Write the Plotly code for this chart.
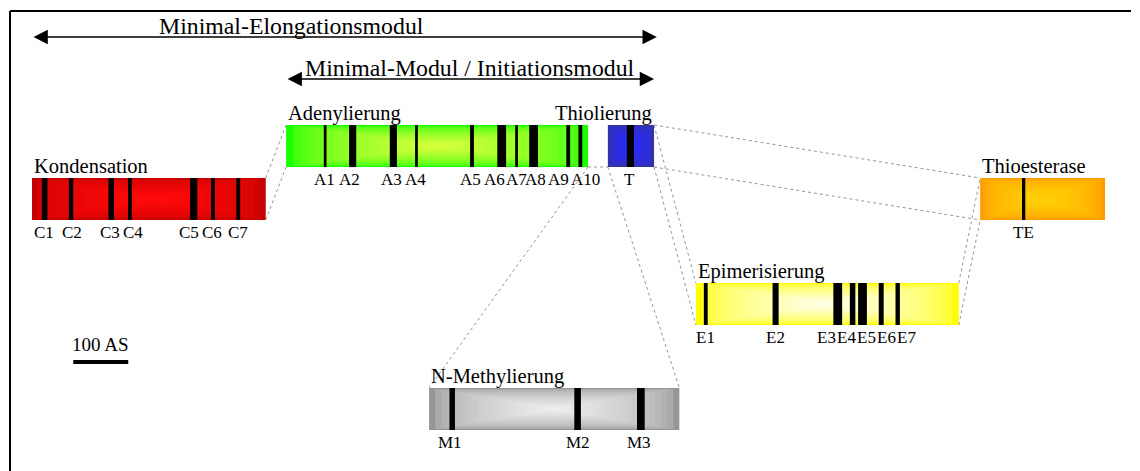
import plotly.graph_objects as go

# ---------------- data (amino-acid units, AS) ----------------
domain_names = ["Kondensation", "Adenylierung", "Thiolierung",
                "Thioesterase", "Epimerisierung", "N-Methylierung"]
domain_length = [425, 549, 84, 227, 478, 455]

motif_k_names = ["C1", "C2", "C3", "C4", "C5", "C6", "C7"]
motif_k_pos = [23, 71, 144, 178, 294, 329, 375]
motif_k_width = [10, 8, 10, 7, 13, 7, 7]

motif_a_names = ["A1", "A2", "A3", "A4", "A5", "A6", "A7", "A8", "A9", "A10"]
motif_a_pos = [71, 121, 195, 237, 338, 392, 419, 450, 513, 535]
motif_a_width = [5, 13, 13, 5, 7, 16, 5, 16, 7, 7]

motif_t_names = ["T"]
motif_t_pos = [41]
motif_t_width = [13]

motif_te_names = ["TE"]
motif_te_pos = [79]
motif_te_width = [6]

motif_e_names = ["E1", "E2", "E3", "E4", "E5", "E6", "E7"]
motif_e_pos = [18, 145, 258, 285, 303, 337, 367]
motif_e_width = [7, 11, 16, 10, 16, 9, 8]

motif_m_names = ["M1", "M2", "M3"]
motif_m_pos = [42, 270, 385]
motif_m_width = [10, 12, 14]

scale_bar_as = 100
scale_bar_label = "100 AS"

module_elong = "Minimal-Elongationsmodul"
module_init = "Minimal-Modul / Initiationsmodul"

# ---------------- layout / styling ----------------
PX_PER_AS = 0.55
W, H = 1140, 471
X0PX = 32  # pixel where AS 0 (start of Kondensation) sits
BAR_H = 42
FONT = "Liberation Serif"

# global start (AS) and top (px) of each domain
layout_pos = {
    "Kondensation": (0, 178),
    "Adenylierung": (462, 125),
    "Thiolierung": (1047, 125),
    "Thioesterase": (1724, 178),
    "Epimerisierung": (1207, 283),
    "N-Methylierung": (722, 388),
}
# label anchor positions (AS, relative to domain start), nudged to avoid collisions
label_x = {
    "Kondensation": [22, 72, 142, 183, 286, 327, 375],
    "Adenylierung": [70, 116, 191, 236, 336, 378, 418, 453, 495, 545],
    "Thiolierung": [40],
    "Thioesterase": [78],
    "Epimerisierung": [18, 145, 238, 274, 310, 347, 383],
    "N-Methylierung": [38, 270, 382],
}
colors = {
    "Kondensation": ((198, 0, 0), (255, 10, 10)),
    "Adenylierung": ((25, 255, 0), (212, 255, 60)),
    "Thiolierung": ((52, 52, 160), (42, 42, 255)),
    "Thioesterase": ((255, 155, 0), (255, 208, 5)),
    "Epimerisierung": ((255, 255, 0), (255, 255, 228)),
    "N-Methylierung": ((150, 150, 150), (236, 236, 236)),
}
motifs = {
    "Kondensation": (motif_k_names, motif_k_pos, motif_k_width),
    "Adenylierung": (motif_a_names, motif_a_pos, motif_a_width),
    "Thiolierung": (motif_t_names, motif_t_pos, motif_t_width),
    "Thioesterase": (motif_te_names, motif_te_pos, motif_te_width),
    "Epimerisierung": (motif_e_names, motif_e_pos, motif_e_width),
    "N-Methylierung": (motif_m_names, motif_m_pos, motif_m_width),
}
title_align = {"Thiolierung": "right"}

length = dict(zip(domain_names, domain_length))

shapes = []
annotations = []


def lerp(c1, c2, t):
    return "rgb(%d,%d,%d)" % tuple(round(a + (b - a) * t) for a, b in zip(c1, c2))


def corner(name, which):
    x0, top = layout_pos[name]
    x = x0 + (length[name] if "R" in which else 0)
    y = top + (BAR_H if "B" in which else 0)
    return x, y


STEPS = 20
for name in domain_names:
    x0, top = layout_pos[name]
    L = length[name]
    edge, center = colors[name]
    for k in range(STEPS):
        f = k / STEPS
        ix = f * L / 2 * 0.97
        iy = f * BAR_H / 2 * 0.97
        t = (k / (STEPS - 1)) ** 0.5
        shapes.append(dict(type="rect", xref="x", yref="y",
                           x0=x0 + ix, x1=x0 + L - ix, y0=top + iy, y1=top + BAR_H - iy,
                           fillcolor=lerp(edge, center, t),
                           line=dict(width=0), layer="below"))
    names, pos, wid = motifs[name]
    for n, p, w, lx in zip(names, pos, wid, label_x[name]):
        shapes.append(dict(type="rect", xref="x", yref="y",
                           x0=x0 + p - w / 2, x1=x0 + p + w / 2, y0=top, y1=top + BAR_H,
                           fillcolor="black", line=dict(width=0), layer="above"))
        annotations.append(dict(x=x0 + lx, y=top + BAR_H + 12, text=n, showarrow=False,
                                xref="x", yref="y", xanchor="center", yanchor="middle",
                                font=dict(family=FONT, size=17, color="black")))
    if title_align.get(name) == "right":
        annotations.append(dict(x=x0 + L, y=top - 12, text=name, showarrow=False,
                                xref="x", yref="y", xanchor="right", yanchor="middle",
                                font=dict(family=FONT, size=20.5, color="black")))
    else:
        annotations.append(dict(x=x0, y=top - 12, text=name, showarrow=False,
                                xref="x", yref="y", xanchor="left", yanchor="middle",
                                font=dict(family=FONT, size=20.5, color="black")))

# dotted connector lines
connectors = [
    ("Kondensation", "TR", "Adenylierung", "TL"),
    ("Kondensation", "BR", "Adenylierung", "BL"),
    ("Adenylierung", "BR", "Thiolierung", "BL"),
    ("Adenylierung", "BR", "N-Methylierung", "TL"),
    ("Thiolierung", "BL", "N-Methylierung", "TR"),
    ("Thiolierung", "TR", "Thioesterase", "TL"),
    ("Thiolierung", "BR", "Thioesterase", "BL"),
    ("Thiolierung", "TR", "Epimerisierung", "TL"),
    ("Thiolierung", "BR", "Epimerisierung", "BL"),
    ("Epimerisierung", "TR", "Thioesterase", "TL"),
    ("Epimerisierung", "BR", "Thioesterase", "BL"),
]
for a, ca, b, cb in connectors:
    xa, ya = corner(a, ca)
    xb, yb = corner(b, cb)
    shapes.append(dict(type="line", xref="x", yref="y", x0=xa, y0=ya, x1=xb, y1=yb,
                       line=dict(color="rgb(150,150,150)", width=1, dash="dot"), layer="below"))

# module arrows (label left edges in AS)
k_start = layout_pos["Kondensation"][0]
a_start = layout_pos["Adenylierung"][0]
t_end = layout_pos["Thiolierung"][0] + length["Thiolierung"]
for (xs, xe, y_line, y_text, x_text, label) in [
    (k_start, t_end + 5, 37, 26, 227, module_elong),
    (a_start, t_end, 79, 68, 492, module_init),
]:
    annotations.append(dict(x=xe, y=y_line, ax=xs, ay=y_line, xref="x", yref="y",
                            axref="x", ayref="y", text="", showarrow=True,
                            arrowhead=2, startarrowhead=2, arrowside="end+start",
                            arrowsize=2.2, startarrowsize=2.2, arrowwidth=1.3,
                            arrowcolor="black", standoff=0, startstandoff=0))
    annotations.append(dict(x=x_text, y=y_text, text=label, showarrow=False,
                            xref="x", yref="y", xanchor="left", yanchor="middle",
                            font=dict(family=FONT, size=23.8, color="black")))

# scale bar
sb_x0 = 75
shapes.append(dict(type="line", xref="x", yref="y", x0=sb_x0, x1=sb_x0 + scale_bar_as,
                   y0=362, y1=362, line=dict(color="black", width=4)))
annotations.append(dict(x=sb_x0 + scale_bar_as / 2, y=344, text=scale_bar_label, showarrow=False,
                        xref="x", yref="y", xanchor="center", yanchor="middle",
                        font=dict(family=FONT, size=19, color="black")))

# frame (top and left)
shapes.append(dict(type="line", xref="paper", yref="paper", x0=10 / W, x1=1131 / W,
                   y0=1 - 11 / H, y1=1 - 11 / H, line=dict(color="black", width=2)))
shapes.append(dict(type="line", xref="paper", yref="paper", x0=10 / W, x1=10 / W,
                   y0=0, y1=1 - 11 / H, line=dict(color="black", width=2)))

fig = go.Figure()
fig.add_trace(go.Scatter(x=[None], y=[None], showlegend=False, hoverinfo="skip"))
fig.update_layout(
    width=W, height=H, margin=dict(l=0, r=0, t=0, b=0),
    paper_bgcolor="white", plot_bgcolor="white",
    xaxis=dict(range=[-X0PX / PX_PER_AS, (W - X0PX) / PX_PER_AS], visible=False, fixedrange=True),
    yaxis=dict(range=[H, 0], visible=False, fixedrange=True),
    shapes=shapes, annotations=annotations, showlegend=False,
)
fig.write_html("out.html", config={"displayModeBar": False},
               post_script="document.body.style.margin='0';document.body.style.overflow='hidden';")
